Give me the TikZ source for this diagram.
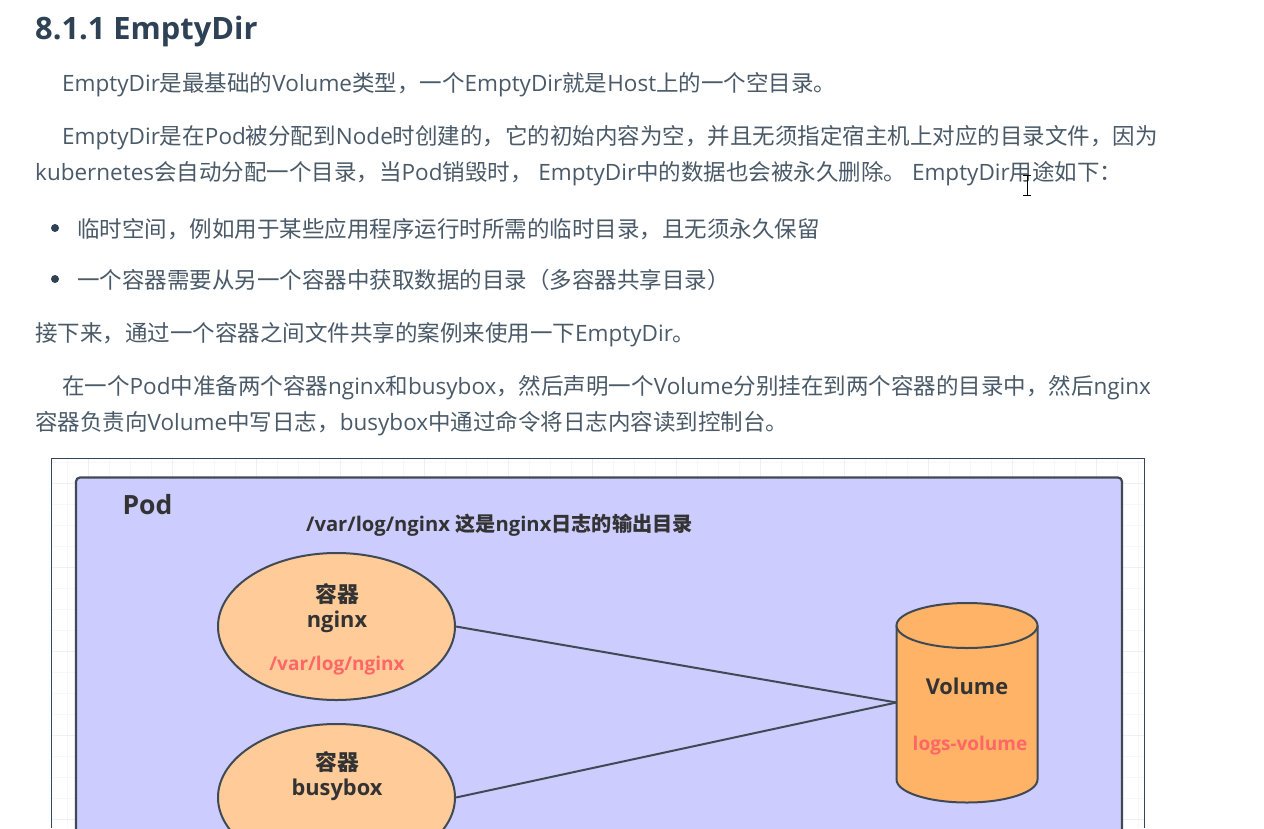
\documentclass[tikz,border=0pt]{standalone}
\usepackage{fontspec}
\usetikzlibrary{shapes.geometric}
\setmainfont{Open Sans}
\newfontfamily\cjkf{Noto Sans CJK SC}
\newcommand{\zh}[1]{{\cjkf #1}}
\definecolor{bodytxt}{HTML}{4A5A68}
\definecolor{headtxt}{HTML}{2F4154}
\definecolor{frameln}{HTML}{33475B}
\definecolor{gridln}{HTML}{F6F7F8}
\definecolor{gridmj}{HTML}{EEF0F1}
\definecolor{podfill}{HTML}{CCCCFF}
\definecolor{podln}{HTML}{3F4A54}
\definecolor{ellfill}{HTML}{FFCC99}
\definecolor{cylfill}{HTML}{FFB366}
\definecolor{redtxt}{HTML}{FF6666}
\definecolor{darktxt}{HTML}{333333}
\tikzset{
 x=1pt,y=-1pt,
 bodyline/.style={anchor=west,inner sep=0pt,text=bodytxt,font=\fontsize{22.5}{26}\selectfont},
 bull/.style={circle,fill=headtxt,inner sep=0pt,minimum size=8pt},
 cont/.style={ellipse,draw=podln,line width=2pt,fill=ellfill,minimum width=237pt,minimum height=147pt,inner sep=0pt},
 difftxt/.style={inner sep=0pt,text=darktxt,font=\bfseries\fontsize{21.8}{25}\selectfont,align=center},
 redlab/.style={inner sep=0pt,text=redtxt,font=\bfseries\fontsize{19}{22}\selectfont},
 link/.style={draw=podln,line width=2pt},
 cyl/.style={draw=podln,line width=2pt,fill=cylfill},
}
\begin{document}
\begin{tikzpicture}
\useasboundingbox (0,0) rectangle (1264,828);
\clip (0,0) rectangle (1264,828);
\fill[white] (0,0) rectangle (1264,828);
\node[anchor=west,inner sep=0pt,text=headtxt,font=\bfseries\fontsize{30.8}{36}\selectfont] (head) at (35,31) {8.1.1 EmptyDir};
\node[bodyline] (l1) at (62,84.5) {EmptyDir\zh{是最基础的}Volume\zh{类型，一个}EmptyDir\zh{就是}Host\zh{上的一个空目录。}};
\node[bodyline] (l2) at (62,137.5) {EmptyDir\zh{是在}Pod\zh{被分配到}Node\zh{时创建的，它的初始内容为空，并且无须指定宿主机上对应的目录文件，因为}};
\node[bodyline] (l3) at (35,173.5) {kubernetes\zh{会自动分配一个目录，当}Pod\zh{销毁时，} EmptyDir\zh{中的数据也会被永久删除。} EmptyDir\zh{用途如下：}};
\node[bull] (b1) at (55,228) {};
\node[bodyline] (l4) at (77,229.5) {\zh{临时空间，例如用于某些应用程序运行时所需的临时目录，且无须永久保留}};
\node[bull] (b2) at (55,279) {};
\node[bodyline] (l5) at (77,279.5) {\zh{一个容器需要从另一个容器中获取数据的目录（多容器共享目录）}};
\node[bodyline] (l6) at (35,334.5) {\zh{接下来，通过一个容器之间文件共享的案例来使用一下}EmptyDir\zh{。}};
\node[bodyline] (l7) at (62,387.5) {\zh{在一个}Pod\zh{中准备两个容器}nginx\zh{和}busybox\zh{，然后声明一个}Volume\zh{分别挂在到两个容器的目录中，然后}nginx};
\node[bodyline] (l8) at (35,423.5) {\zh{容器负责向}Volume\zh{中写日志，}busybox\zh{中通过命令将日志内容读到控制台。}};
% I-beam cursor
\draw[black,line width=0.9pt] (1023,175)--(1031,175) (1027,175)--(1027,195) (1023,195)--(1031,195);
% diagram frame and grid
\draw[gridln,line width=0.8pt] \foreach \gx in {67,88,...,1144} {(\gx,458)--(\gx,828)} \foreach \gy in {462,483,...,828} {(51,\gy)--(1144,\gy)};
\draw[gridmj,line width=0.9pt] \foreach \gx in {88,172,...,1144} {(\gx,458)--(\gx,828)} \foreach \gy in {483,567,...,828} {(51,\gy)--(1144,\gy)};
\draw[frameln,line width=0.9pt] (51,828)--(51,458)--(1144,458)--(1144,828);
\draw[podln,line width=2.2pt,fill=podfill,rounded corners=4pt] (76,840) -- (76,477.5) -- (1122,477.5) -- (1122,840);
\node[inner sep=0pt,text=darktxt,font=\bfseries\fontsize{26.5}{30}\selectfont] (pod) at (147.5,504.5) {Pod};
\node[anchor=west,inner sep=0pt,text=darktxt,font=\bfseries\fontsize{20.2}{24}\selectfont] (note) at (306,525.5) {/var/log/nginx \zh{\bfseries 这是}nginx\zh{\bfseries 日志的输出目录}};
\node[cont] (nginx) at (336.5,626.5) {};
\node[cont] (busy) at (336.5,797.5) {};
\node[difftxt] (t1) at (337,608) {\zh{\bfseries 容器}\\nginx};
\node[redlab] (p1) at (337,665.5) {/var/log/nginx};
\node[difftxt] (t2) at (337,776.5) {\zh{\bfseries 容器}\\busybox};
% Volume cylinder, drawn around a named node
\node[minimum width=141pt,minimum height=199pt,inner sep=0pt,outer sep=0pt] (vol) at (967,702.5) {};
\draw[cyl] (vol.west |- 0,625.5) -- (vol.west |- 0,779.5) arc[start angle=180,end angle=0,x radius=70.5pt,y radius=-23pt] -- (vol.east |- 0,625.5);
\draw[cyl] (967,625.5) ellipse[x radius=70.5pt,y radius=22.5pt];
\node[difftxt] (t3) at (967,686) {Volume};
\node[redlab] (p2) at (970,745.5) {logs-volume};
\draw[link] (nginx.east) -- (vol.west);
\draw[link] (busy.east) -- (vol.west);
\end{tikzpicture}
\end{document}
